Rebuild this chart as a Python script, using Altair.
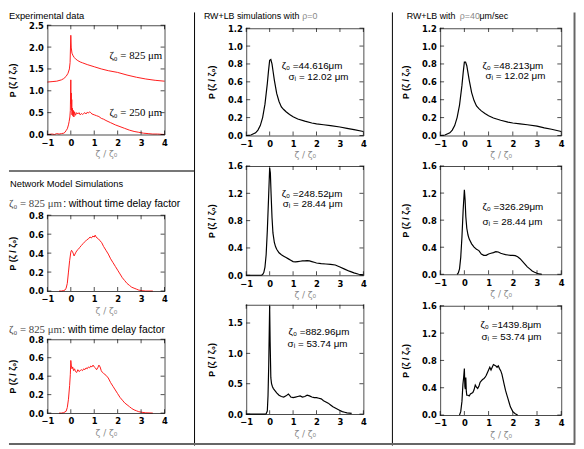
import altair as alt
import pandas as pd

W, H = 576, 440
TL = 4  # inward tick length

X_TICKS = [-1, 0, 1, 2, 3, 4]
X_DOM = [-1, 4]

# ---------------- data ----------------
# Experimental data
x_e825 = [-1.0, -0.8, -0.6, -0.4, -0.3, -0.2, -0.12, -0.06, -0.03, 0.0, 0.02, 0.05, 0.1, 0.15, 0.2, 0.3, 0.4, 0.5, 0.7, 1.0, 1.3, 1.6, 2.0, 2.4, 2.8, 3.2, 3.6, 4.0]
y_e825 = [1.20, 1.21, 1.22, 1.25, 1.28, 1.33, 1.40, 1.50, 1.65, 2.27, 1.98, 1.86, 1.80, 1.76, 1.73, 1.69, 1.66, 1.64, 1.60, 1.55, 1.50, 1.46, 1.42, 1.36, 1.31, 1.27, 1.24, 1.22]

x_e250 = [-1.0, -0.8, -0.7, -0.6, -0.5, -0.4, -0.3, -0.25, -0.2, -0.15, -0.1, -0.07, -0.04, -0.02, 0.0, 0.01, 0.02, 0.03, 0.04, 0.05, 0.07, 0.09, 0.11, 0.13, 0.16, 0.2, 0.25, 0.3, 0.35, 0.4, 0.45, 0.5, 0.55, 0.6, 0.65, 0.7, 0.75, 0.8, 0.85, 0.9, 1.0, 1.1, 1.2, 1.3, 1.4, 1.5, 1.7, 1.9, 2.1, 2.3, 2.5, 2.7, 2.9, 3.1, 3.3, 3.5, 3.7, 4.0]
y_e250 = [0.0, 0.01, 0.0, 0.02, 0.01, 0.02, 0.03, 0.05, 0.09, 0.13, 0.22, 0.30, 0.40, 0.55, 1.25, 0.70, 0.95, 0.55, 0.80, 0.45, 0.60, 0.42, 0.55, 0.40, 0.52, 0.44, 0.50, 0.47, 0.50, 0.45, 0.48, 0.46, 0.48, 0.50, 0.47, 0.51, 0.49, 0.52, 0.50, 0.47, 0.45, 0.43, 0.41, 0.37, 0.35, 0.32, 0.27, 0.22, 0.18, 0.14, 0.10, 0.07, 0.05, 0.03, 0.02, 0.01, 0.01, 0.0]

# Network model: without time delay factor
x_nw = [-0.5, -0.4, -0.3, -0.25, -0.2, -0.15, -0.1, -0.05, 0.0, 0.03, 0.06, 0.1, 0.14, 0.18, 0.22, 0.27, 0.32, 0.38, 0.45, 0.52, 0.6, 0.68, 0.75, 0.82, 0.88, 0.94, 1.0, 1.04, 1.08, 1.12, 1.18, 1.25, 1.32, 1.4, 1.5, 1.6, 1.7, 1.8, 1.9, 2.0, 2.1, 2.2, 2.3, 2.4, 2.5, 2.6, 2.7, 2.8, 2.9, 3.0, 3.2, 3.5]
y_nw = [0.0, 0.0, 0.005, 0.01, 0.03, 0.08, 0.2, 0.32, 0.41, 0.43, 0.42, 0.40, 0.37, 0.39, 0.41, 0.43, 0.44, 0.46, 0.48, 0.50, 0.52, 0.54, 0.55, 0.57, 0.56, 0.58, 0.57, 0.59, 0.57, 0.56, 0.55, 0.53, 0.51, 0.47, 0.43, 0.39, 0.34, 0.30, 0.26, 0.22, 0.18, 0.14, 0.11, 0.08, 0.06, 0.04, 0.03, 0.02, 0.01, 0.005, 0.0, 0.0]

# Network model: with time delay factor
x_nd = [-0.5, -0.4, -0.3, -0.2, -0.15, -0.1, -0.05, -0.02, 0.0, 0.02, 0.05, 0.08, 0.12, 0.16, 0.2, 0.25, 0.3, 0.35, 0.4, 0.45, 0.5, 0.55, 0.6, 0.65, 0.7, 0.75, 0.8, 0.85, 0.9, 0.95, 1.0, 1.05, 1.1, 1.15, 1.2, 1.25, 1.3, 1.35, 1.4, 1.5, 1.6, 1.7, 1.8, 1.9, 2.0, 2.1, 2.2, 2.3, 2.4, 2.5, 2.6, 2.7, 2.8, 2.9, 3.0, 3.2, 3.5]
y_nd = [0.0, 0.0, 0.005, 0.02, 0.06, 0.15, 0.3, 0.42, 0.57, 0.52, 0.48, 0.50, 0.46, 0.48, 0.45, 0.44, 0.47, 0.45, 0.46, 0.47, 0.46, 0.48, 0.47, 0.49, 0.48, 0.50, 0.49, 0.51, 0.50, 0.52, 0.50, 0.49, 0.47, 0.49, 0.52, 0.50, 0.46, 0.44, 0.43, 0.41, 0.38, 0.33, 0.29, 0.25, 0.21, 0.17, 0.14, 0.11, 0.09, 0.07, 0.05, 0.035, 0.025, 0.015, 0.01, 0.003, 0.0]

# RW+LB, rho = 0
x_d = [-1.0, -0.8, -0.6, -0.5, -0.4, -0.3, -0.2, -0.1, -0.05, 0.0, 0.05, 0.1, 0.15, 0.2, 0.3, 0.4, 0.5, 0.6, 0.7, 0.85, 1.0, 1.2, 1.5, 1.8, 2.0, 2.3, 2.6, 3.0, 3.3, 3.6, 4.0]
y_d = [0.0, 0.005, 0.03, 0.06, 0.11, 0.2, 0.35, 0.58, 0.72, 0.84, 0.85, 0.80, 0.71, 0.62, 0.47, 0.38, 0.32, 0.29, 0.265, 0.235, 0.21, 0.185, 0.16, 0.14, 0.13, 0.12, 0.11, 0.095, 0.08, 0.065, 0.045]

x_e = [-1.0, -0.5, -0.35, -0.3, -0.25, -0.2, -0.15, -0.1, -0.05, 0.0, 0.03, 0.06, 0.1, 0.14, 0.2, 0.25, 0.3, 0.4, 0.5, 0.6, 0.7, 0.8, 0.9, 1.0, 1.1, 1.2, 1.3, 1.4, 1.5, 1.6, 1.7, 1.8, 1.9, 2.0, 2.2, 2.4, 2.6, 2.8, 3.0, 3.2, 3.4, 3.6, 3.8, 4.0]
y_e = [0.0, 0.0, 0.0, 0.01, 0.04, 0.12, 0.3, 0.65, 1.1, 1.57, 1.5, 1.2, 0.85, 0.62, 0.48, 0.42, 0.38, 0.33, 0.3, 0.28, 0.26, 0.24, 0.22, 0.2, 0.195, 0.2, 0.205, 0.21, 0.21, 0.215, 0.21, 0.2, 0.19, 0.18, 0.17, 0.165, 0.16, 0.15, 0.12, 0.09, 0.06, 0.035, 0.015, 0.005]

x_f = [-1.0, -0.2, -0.15, -0.1, -0.07, -0.04, -0.02, 0.0, 0.02, 0.05, 0.08, 0.12, 0.16, 0.2, 0.3, 0.4, 0.5, 0.6, 0.7, 0.8, 0.85, 0.9, 1.0, 1.1, 1.2, 1.3, 1.4, 1.5, 1.6, 1.7, 1.8, 1.9, 2.0, 2.1, 2.2, 2.3, 2.4, 2.5, 2.6, 2.7, 2.8, 2.9, 3.0, 3.1, 3.2, 3.3, 3.5]
y_f = [0.0, 0.0, 0.005, 0.05, 0.3, 0.8, 1.3, 1.78, 1.2, 0.6, 0.5, 0.45, 0.42, 0.4, 0.35, 0.31, 0.29, 0.28, 0.3, 0.33, 0.31, 0.28, 0.27, 0.28, 0.29, 0.3, 0.28, 0.29, 0.31, 0.3, 0.28, 0.27, 0.27, 0.26, 0.25, 0.22, 0.2, 0.18, 0.15, 0.12, 0.1, 0.08, 0.06, 0.04, 0.03, 0.02, 0.01]

# RW+LB, rho = 40 um/sec
x_g = [-1.0, -0.8, -0.6, -0.5, -0.4, -0.3, -0.2, -0.1, -0.05, 0.0, 0.05, 0.1, 0.15, 0.2, 0.3, 0.4, 0.5, 0.6, 0.7, 0.85, 1.0, 1.2, 1.5, 1.8, 2.0, 2.3, 2.6, 3.0, 3.3, 3.6, 4.0]
y_g = [0.0, 0.005, 0.03, 0.06, 0.11, 0.2, 0.34, 0.56, 0.70, 0.82, 0.82, 0.78, 0.70, 0.62, 0.48, 0.39, 0.33, 0.30, 0.275, 0.245, 0.22, 0.195, 0.17, 0.15, 0.14, 0.13, 0.12, 0.105, 0.085, 0.07, 0.045]

x_h = [-0.3, -0.25, -0.2, -0.15, -0.1, -0.05, 0.0, 0.03, 0.06, 0.1, 0.15, 0.2, 0.3, 0.4, 0.5, 0.6, 0.7, 0.8, 0.9, 1.0, 1.1, 1.2, 1.3, 1.4, 1.5, 1.6, 1.7, 1.8, 1.9, 2.0, 2.1, 2.2, 2.3, 2.4, 2.5, 2.6, 2.7, 2.8, 2.9, 3.0, 3.1, 3.2]
y_h = [0.0, 0.02, 0.08, 0.25, 0.55, 0.95, 1.25, 1.1, 0.85, 0.68, 0.58, 0.52, 0.45, 0.4, 0.37, 0.35, 0.3, 0.28, 0.28, 0.3, 0.31, 0.32, 0.335, 0.33, 0.31, 0.3, 0.29, 0.285, 0.28, 0.28, 0.275, 0.26, 0.23, 0.19, 0.15, 0.11, 0.08, 0.05, 0.03, 0.015, 0.005, 0.0]

x_i = [-0.2, -0.15, -0.1, -0.06, -0.03, 0.0, 0.02, 0.04, 0.06, 0.08, 0.1, 0.15, 0.2, 0.25, 0.3, 0.35, 0.4, 0.45, 0.5, 0.55, 0.6, 0.65, 0.7, 0.75, 0.8, 0.85, 0.9, 0.95, 1.0, 1.05, 1.1, 1.15, 1.2, 1.25, 1.3, 1.35, 1.4, 1.45, 1.5, 1.55, 1.6, 1.65, 1.7, 1.75, 1.8, 1.85, 1.9, 2.0, 2.1, 2.2]
y_i = [0.0, 0.05, 0.2, 0.45, 0.55, 0.68, 0.42, 0.38, 0.55, 0.35, 0.29, 0.29, 0.28, 0.31, 0.32, 0.33, 0.37, 0.44, 0.41, 0.39, 0.42, 0.48, 0.5, 0.52, 0.53, 0.55, 0.58, 0.62, 0.66, 0.7, 0.66, 0.7, 0.74, 0.73, 0.72, 0.7, 0.72, 0.68, 0.65, 0.6, 0.52, 0.44, 0.36, 0.3, 0.24, 0.18, 0.12, 0.05, 0.02, 0.0]

# y tick values
yt_exp = [0, 0.5, 1.0, 1.5, 2.0, 2.5]
yt_net = [0, 0.2, 0.4, 0.6, 0.8]
yt_12 = [0, 0.2, 0.4, 0.6, 0.8, 1.0, 1.2]
yt_16 = [0, 0.4, 0.8, 1.2, 1.6]
yt_18 = [0, 0.5, 1.0, 1.5]

ONE = pd.DataFrame({"a": [0]})
LABEL_FONT = "DejaVu Sans"


def axis_x(yb):
    return alt.Axis(orient="bottom", values=X_TICKS, format="d", offset=yb - H,
                    domain=False, ticks=False, grid=False, labelPadding=4,
                    labelFlush=False, labelOverlap=False, labelFont=LABEL_FONT,
                    labelFontSize=8.5, labelFontWeight="bold", labelColor="black",
                    title="ζ / ζ₀", titleFont="DejaVu Sans", titleFontSize=9,
                    titleFontWeight="normal", titleColor="#888888", titlePadding=3)


def axis_y(x0, ticks):
    return alt.Axis(orient="left", values=ticks, format=".1f", offset=-x0,
                    domain=False, ticks=False, grid=False, labelPadding=4,
                    labelFlush=False, labelOverlap=False, labelFont=LABEL_FONT,
                    labelFontSize=8.5, labelFontWeight="bold", labelColor="black",
                    title="P (ζ / ζ₀)", titleFont="Liberation Sans", titleFontSize=9,
                    titleFontWeight="bold", titleColor="black", titlePadding=11)


def line(x, x2, y, y2, color="black", w=1):
    return alt.Chart(ONE).mark_rule(color=color, strokeWidth=w).encode(
        x=alt.value(x), x2=alt.value(x2), y=alt.value(y), y2=alt.value(y2))


curves, ticks = [], []


def panel(series, color, x0, x1, yt, yb, ydom, yticks, sw=1.0):
    xs = alt.Scale(domain=X_DOM, range=[x0, x1], nice=False, zero=False)
    ys = alt.Scale(domain=ydom, range=[yb, yt], nice=False, zero=False)
    for k, (xv, yv) in enumerate(series):
        df = pd.DataFrame({"x": xv, "y": yv})
        if k == 0:
            X = alt.X("x:Q", scale=xs, axis=axis_x(yb))
            Y = alt.Y("y:Q", scale=ys, axis=axis_y(x0, yticks))
        else:
            X = alt.X("x:Q", scale=xs, axis=None)
            Y = alt.Y("y:Q", scale=ys, axis=None)
        curves.append(alt.Chart(df).mark_line(color=color, strokeWidth=sw).encode(x=X, y=Y))
    Xn = alt.X("tx:Q", scale=xs, axis=None)
    Yn = alt.Y("ty:Q", scale=ys, axis=None)
    xt = pd.DataFrame({"tx": X_TICKS})
    ytd = pd.DataFrame({"ty": yticks})
    # inward ticks on all four sides
    ticks.append(alt.Chart(xt).mark_tick(color="black", thickness=1, size=TL, orient="vertical",
                                         yOffset=-TL / 2).encode(x=Xn, y=alt.value(yb)))
    ticks.append(alt.Chart(xt).mark_tick(color="black", thickness=1, size=TL, orient="vertical",
                                         yOffset=TL / 2).encode(x=Xn, y=alt.value(yt)))
    ticks.append(alt.Chart(ytd).mark_tick(color="black", thickness=1, size=TL, orient="horizontal",
                                          xOffset=TL / 2).encode(y=Yn, x=alt.value(x0)))
    ticks.append(alt.Chart(ytd).mark_tick(color="black", thickness=1, size=TL, orient="horizontal",
                                          xOffset=-TL / 2).encode(y=Yn, x=alt.value(x1)))
    # plot frame: four long ticks centred on the middle of each domain
    mx = pd.DataFrame({"tx": [(X_DOM[0] + X_DOM[1]) / 2]})
    my = pd.DataFrame({"ty": [(ydom[0] + ydom[1]) / 2]})
    ticks.append(alt.Chart(mx).mark_tick(color="black", thickness=1, size=x1 - x0 + 1,
                                         orient="horizontal").encode(x=Xn, y=alt.value(yt + 0.5)))
    ticks.append(alt.Chart(mx).mark_tick(color="black", thickness=1, size=x1 - x0 + 1,
                                         orient="horizontal").encode(x=Xn, y=alt.value(yb + 0.5)))
    ticks.append(alt.Chart(my).mark_tick(color="black", thickness=1, size=yb - yt + 1,
                                         orient="vertical").encode(y=Yn, x=alt.value(x0 + 0.5)))
    ticks.append(alt.Chart(my).mark_tick(color="black", thickness=1, size=yb - yt + 1,
                                         orient="vertical").encode(y=Yn, x=alt.value(x1 + 0.5)))


def txt(s, x, y, size=10, color="black", weight="normal", font="Liberation Sans", align="left"):
    return alt.Chart(ONE).mark_text(text=s, align=align, baseline="alphabetic", fontSize=size,
                                    color=color, fontWeight=weight, font=font).encode(
        x=alt.value(x), y=alt.value(y))


RED = "#ff1a1a"
panel([(x_e825, y_e825), (x_e250, y_e250)], RED, 39, 158, 13, 124, [0, 2.5], yt_exp)
panel([(x_nw, y_nw)], RED, 39, 158, 206, 283, [0, 0.8], yt_net)
panel([(x_nd, y_nd)], RED, 39, 158, 332, 407, [0, 0.8], yt_net)
panel([(x_d, y_d)], "black", 241, 360, 16, 125, [0, 1.2], yt_12, 1.2)
panel([(x_e, y_e)], "black", 241, 360, 156, 267, [0, 1.6], yt_16, 1.2)
panel([(x_f, y_f)], "black", 241, 360, 297, 408, [0, 1.8], yt_18, 1.2)
panel([(x_g, y_g)], "black", 438, 561, 16, 125, [0, 1.2], yt_12, 1.2)
panel([(x_h, y_h)], "black", 438, 561, 156, 266, [0, 1.6], yt_16, 1.2)
panel([(x_i, y_i)], "black", 438, 561, 298, 409, [0, 1.6], yt_16, 1.2)

SERIF = "Liberation Serif"
decor = [
    # borders / dividers
    line(188.5, 188.5, 0, 440),
    line(389.5, 389.5, 0, 440),
    line(0, 188, 161, 161, "#777777", 2),
    line(574.5, 574.5, 0, 439, "#666666", 2),
    line(0, 575, 438.5, 438.5, "#666666", 2),
    # column headers
    txt("Experimental data", 0, 7, 9.5),
    txt("Network Model Simulations", 1, 177, 9.5),
    txt("ζ₀ = 825 μm", 0, 198, 11, "#444444", font=SERIF),
    txt(": without time delay factor", 55, 198, 10.5),
    txt("ζ₀ = 825 μm", 0, 326, 11, "#444444", font=SERIF),
    txt(": with time delay factor", 54, 326, 10.5),
    txt("RW+LB simulations with", 198, 7, 9),
    txt("ρ=0", 298, 7, 9, "#888888"),
    txt("RW+LB  with", 404, 7, 9),
    txt("ρ=40", 458, 7, 9, "#888888"),
    txt("μm/sec", 478, 7, 9),
    # annotations
    txt("ζ₀ = 825 μm", 102, 47, 11, font=SERIF),
    txt("ζ₀ = 250 μm", 102, 105, 11, font=SERIF),
    txt("ζ₀ =44.616μm", 277, 57, 10),
    txt("σᵢ = 12.02 μm", 284, 69, 10),
    txt("ζ₀ =248.52μm", 277, 187, 10),
    txt("σᵢ = 28.44 μm", 278, 198, 10),
    txt("ζ₀ =882.96μm", 284, 328, 10),
    txt("σᵢ = 53.74 μm", 283, 340, 10),
    txt("ζ₀ =48.213μm", 481, 57, 10),
    txt("σᵢ = 12.02 μm", 484, 68, 10),
    txt("ζ₀ =326.29μm", 481, 201, 10),
    txt("σᵢ = 28.44 μm", 481, 216, 10),
    txt("ζ₀ =1439.8μm", 479, 321, 10),
    txt("σᵢ = 53.74 μm", 480, 333, 10),
]

chart = alt.layer(*curves, *ticks, *decor).resolve_scale(
    x="independent", y="independent"
).properties(width=W, height=H, padding=0, background="white").configure_view(stroke=None)

chart.save("out.html", embed_options={"renderer": "svg", "actions": False})
